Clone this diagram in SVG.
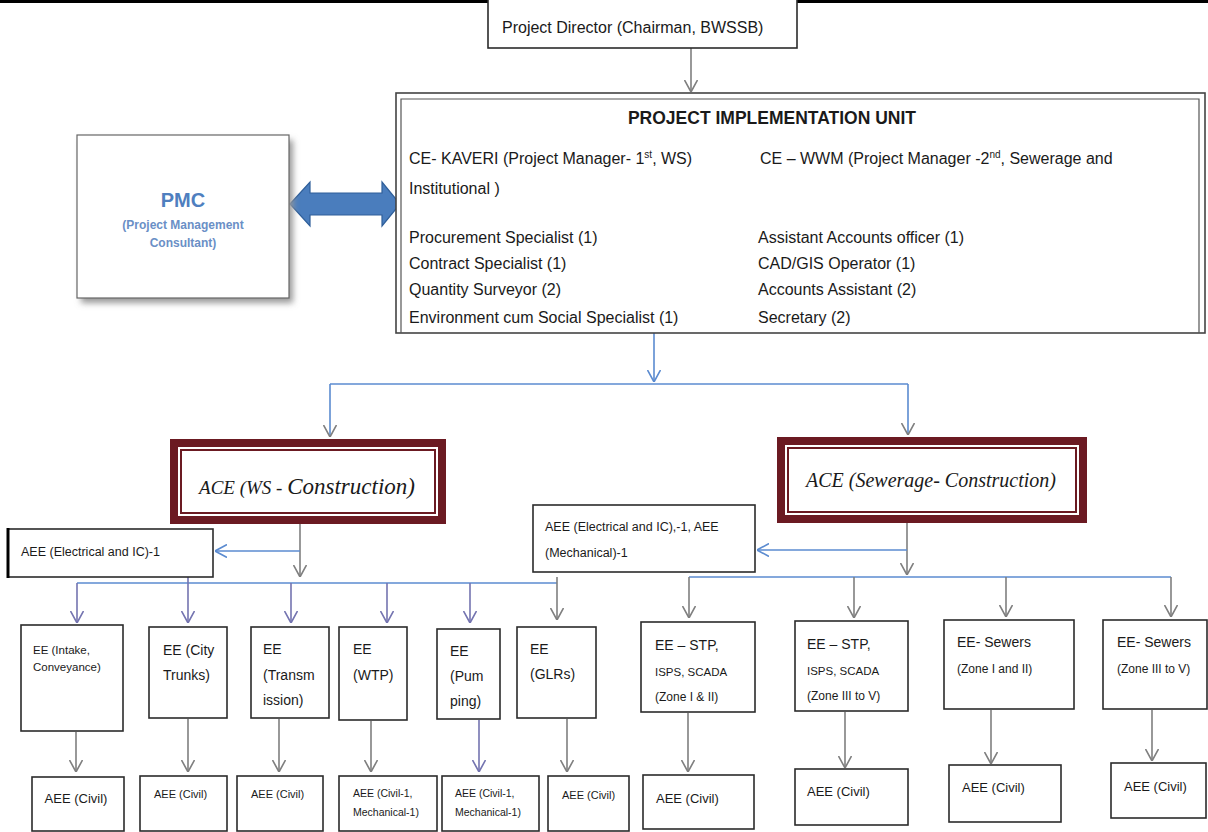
<svg xmlns="http://www.w3.org/2000/svg" width="1208" height="832" viewBox="0 0 1208 832">
<defs>
<style>
.t{font-family:"Liberation Sans",Arial,sans-serif;fill:#1a1a1a}
.box{fill:#fff;stroke:#2b2b2b;stroke-width:1.6}
.ace{fill:#fff;stroke:#6b1a22;stroke-width:8}
.acei{fill:none;stroke:#6b1a22;stroke-width:2}
.ser{font-family:"Liberation Serif","Times New Roman",serif;font-style:italic;fill:#1a1a1a}
.cb{fill:none;stroke:#5b8bd0;stroke-width:1.6}
.cg{fill:none;stroke:#7f7f7f;stroke-width:1.6}
.cp{fill:none;stroke:#7474b0;stroke-width:1.6}
</style>
<marker id="mg" viewBox="0 0 12 14" refX="12" refY="7" markerWidth="12" markerHeight="14" markerUnits="userSpaceOnUse" orient="auto"><path d="M0,0.5 L12,7 L0,13.5" fill="none" stroke="#7f7f7f" stroke-width="1.6"/></marker>
<marker id="mb" viewBox="0 0 12 14" refX="12" refY="7" markerWidth="12" markerHeight="14" markerUnits="userSpaceOnUse" orient="auto"><path d="M0,0.5 L12,7 L0,13.5" fill="none" stroke="#5b8bd0" stroke-width="1.6"/></marker>
<marker id="mp" viewBox="0 0 12 14" refX="12" refY="7" markerWidth="12" markerHeight="14" markerUnits="userSpaceOnUse" orient="auto"><path d="M0,0.5 L12,7 L0,13.5" fill="none" stroke="#7474b0" stroke-width="1.6"/></marker>
<filter id="sh" x="-10%" y="-10%" width="130%" height="130%"><feGaussianBlur stdDeviation="3"/></filter>
</defs>
<rect x="0" y="0" width="1208" height="832" fill="#fff"/>
<line x1="0" y1="1.5" x2="1208" y2="1.5" stroke="#000" stroke-width="3"/>

<g id="connectors">
<path class="cg" d="M691,48 L691,92" marker-end="url(#mg)"/>
<path class="cb" d="M654,333 L654,382" marker-end="url(#mb)"/>
<path class="cb" d="M330,384 L908,384"/>
<path class="cb" d="M330,384 L330,437" marker-end="url(#mg)"/>
<path class="cb" d="M908,384 L908,435" marker-end="url(#mg)"/>
<path class="cg" d="M300,524 L300,577" marker-end="url(#mg)"/>
<path class="cb" d="M300,551 L215,551" marker-end="url(#mb)"/>
<path class="cb" d="M77,583 L557,583"/>
<path class="cp" d="M77,583 L77,623" marker-end="url(#mp)"/>
<path class="cp" d="M188,577 L188,623" marker-end="url(#mp)"/>
<path class="cp" d="M291,583 L291,623" marker-end="url(#mp)"/>
<path class="cp" d="M387,583 L387,623" marker-end="url(#mp)"/>
<path class="cp" d="M470,583 L470,623" marker-end="url(#mp)"/>
<path class="cg" d="M557,577 L557,620" marker-end="url(#mg)"/>
<path class="cg" d="M76,732 L76,772" marker-end="url(#mg)"/>
<path class="cg" d="M188,719 L188,772" marker-end="url(#mg)"/>
<path class="cg" d="M279,719 L279,772" marker-end="url(#mg)"/>
<path class="cg" d="M371,721 L371,772" marker-end="url(#mg)"/>
<path class="cp" d="M479,720 L479,772" marker-end="url(#mp)"/>
<path class="cg" d="M567,719 L567,772" marker-end="url(#mg)"/>
<path class="cg" d="M907,523 L907,575" marker-end="url(#mg)"/>
<path class="cb" d="M907,550 L757,550" marker-end="url(#mb)"/>
<path class="cb" d="M689,577 L1171,577"/>
<path class="cg" d="M689,577 L689,618" marker-end="url(#mg)"/>
<path class="cg" d="M854,577 L854,618" marker-end="url(#mg)"/>
<path class="cg" d="M1006,577 L1006,617" marker-end="url(#mg)"/>
<path class="cg" d="M1171,577 L1171,617" marker-end="url(#mg)"/>
<path class="cg" d="M688,713 L688,772" marker-end="url(#mg)"/>
<path class="cg" d="M845,712 L845,768" marker-end="url(#mg)"/>
<path class="cg" d="M991,710 L991,764" marker-end="url(#mg)"/>
<path class="cg" d="M1152,710 L1152,761" marker-end="url(#mg)"/>
<polygon points="290,204 310,182 310,193 382,193 382,182 400,204 382,226 382,215 310,215 310,226" fill="#4a7dbd" stroke="#2f5f9a" stroke-width="1.2"/>
</g>

<g id="pd">
<rect class="box" x="488" y="-2" width="309" height="50"/>
<text class="t" x="502" y="33" font-size="16">Project Director (Chairman, BWSSB)</text>
</g>

<g id="piu">
<rect x="396" y="93" width="809" height="240" fill="#fff" stroke="#444" stroke-width="1.6"/>
<path d="M401,333 L401,99 L1199,99 L1199,333" fill="none" stroke="#555" stroke-width="1.2"/>
<text class="t" x="772" y="124" font-size="17.5" font-weight="bold" text-anchor="middle">PROJECT IMPLEMENTATION UNIT</text>
<text class="t" x="409" y="164" font-size="16">CE- KAVERI (Project Manager- 1<tspan font-size="10" dy="-6">st</tspan><tspan dy="6">, WS)</tspan></text>
<text class="t" x="760" y="164" font-size="16">CE – WWM (Project Manager -2<tspan font-size="10" dy="-6">nd</tspan><tspan dy="6">, Sewerage and</tspan></text>
<text class="t" x="409" y="194" font-size="16">Institutional )</text>
<text class="t" x="409" y="243" font-size="16">Procurement Specialist (1)</text>
<text class="t" x="409" y="269" font-size="16">Contract Specialist (1)</text>
<text class="t" x="409" y="295" font-size="16">Quantity Surveyor (2)</text>
<text class="t" x="409" y="323" font-size="16">Environment cum Social Specialist (1)</text>
<text class="t" x="758" y="243" font-size="16">Assistant Accounts officer (1)</text>
<text class="t" x="758" y="269" font-size="16">CAD/GIS Operator (1)</text>
<text class="t" x="758" y="295" font-size="16">Accounts Assistant (2)</text>
<text class="t" x="758" y="323" font-size="16">Secretary (2)</text>
</g>

<g id="pmc">
<rect x="81" y="140" width="212" height="163" fill="#999" filter="url(#sh)"/>
<rect x="77" y="135" width="212" height="163" fill="#fff" stroke="#666" stroke-width="1.2"/>
<text x="183" y="207" font-family="Liberation Sans,Arial,sans-serif" font-size="20" font-weight="bold" fill="#4f7fbf" text-anchor="middle">PMC</text>
<text x="183" y="229" font-family="Liberation Sans,Arial,sans-serif" font-size="12" font-weight="bold" fill="#6a8fc6" text-anchor="middle">(Project Management</text>
<text x="183" y="247" font-family="Liberation Sans,Arial,sans-serif" font-size="12" font-weight="bold" fill="#6a8fc6" text-anchor="middle">Consultant)</text>
</g>

<g id="ace-ws">
<rect class="ace" x="174" y="443" width="268" height="77"/>
<rect class="acei" x="181" y="450" width="254" height="63"/>
<text class="ser" x="307" y="494" text-anchor="middle"><tspan font-size="19">ACE (WS - </tspan><tspan font-size="23">Construction)</tspan></text>
</g>

<g id="ace-sew">
<rect class="ace" x="781" y="441" width="302" height="78"/>
<rect class="acei" x="788" y="448" width="288" height="64"/>
<text class="ser" x="931" y="487" font-size="20" text-anchor="middle">ACE (Sewerage- Construction)</text>
</g>

<g id="aee-ws-elec">
<rect class="box" x="8" y="529" width="205" height="48"/>
<line x1="8" y1="528" x2="8" y2="578" stroke="#000" stroke-width="3"/>
<text class="t" x="21" y="556" font-size="12.5">AEE (Electrical and IC)-1</text>
</g>

<g id="aee-sew-elec">
<rect class="box" x="533" y="505" width="222" height="67"/>
<text class="t" x="545" y="531" font-size="12.5">AEE (Electrical and IC),-1, AEE</text>
<text class="t" x="545" y="557" font-size="12.5">(Mechanical)-1</text>
</g>

<g id="ee-intake">
<rect class="box" x="21" y="625" width="102" height="106"/>
<text class="t" x="33" y="654" font-size="11.5">EE (Intake,</text>
<text class="t" x="33" y="671" font-size="11.5">Conveyance)</text>
</g>
<g id="ee-city">
<rect class="box" x="149" y="627" width="78" height="91"/>
<text class="t" x="163" y="655" font-size="14">EE (City</text>
<text class="t" x="163" y="680" font-size="14">Trunks)</text>
</g>
<g id="ee-trans">
<rect class="box" x="251" y="627" width="78" height="91"/>
<text class="t" x="263" y="654" font-size="14">EE</text>
<text class="t" x="263" y="680" font-size="14">(Transm</text>
<text class="t" x="263" y="705" font-size="14">ission)</text>
</g>
<g id="ee-wtp">
<rect class="box" x="339" y="627" width="68" height="93"/>
<text class="t" x="353" y="654" font-size="14">EE</text>
<text class="t" x="353" y="680" font-size="14">(WTP)</text>
</g>
<g id="ee-pump">
<rect class="box" x="437" y="629" width="63" height="90"/>
<text class="t" x="450" y="656" font-size="14">EE</text>
<text class="t" x="450" y="681" font-size="14">(Pum</text>
<text class="t" x="450" y="706" font-size="14">ping)</text>
</g>
<g id="ee-glr">
<rect class="box" x="517" y="627" width="79" height="91"/>
<text class="t" x="530" y="654" font-size="14">EE</text>
<text class="t" x="530" y="679" font-size="14">(GLRs)</text>
</g>
<g id="ee-stp1">
<rect class="box" x="641" y="622" width="114" height="90"/>
<text class="t" x="655" y="650" font-size="14">EE – STP,</text>
<text class="t" x="655" y="676" font-size="11.5">ISPS, SCADA</text>
<text class="t" x="655" y="701" font-size="12">(Zone I &amp; II)</text>
</g>
<g id="ee-stp2">
<rect class="box" x="795" y="621" width="113" height="90"/>
<text class="t" x="807" y="649" font-size="14">EE – STP,</text>
<text class="t" x="807" y="675" font-size="11.5">ISPS, SCADA</text>
<text class="t" x="807" y="700" font-size="12">(Zone III to V)</text>
</g>
<g id="ee-sew1">
<rect class="box" x="944" y="620" width="130" height="89"/>
<text class="t" x="957" y="647" font-size="14">EE- Sewers</text>
<text class="t" x="957" y="673" font-size="12">(Zone I and II)</text>
</g>
<g id="ee-sew2">
<rect class="box" x="1103" y="620" width="104" height="89"/>
<text class="t" x="1117" y="647" font-size="14">EE- Sewers</text>
<text class="t" x="1117" y="673" font-size="12">(Zone III to V)</text>
</g>

<g id="aee-1"><rect class="box" x="32" y="777" width="92" height="54"/><text class="t" x="76" y="803" font-size="13" text-anchor="middle">AEE (Civil)</text></g>
<g id="aee-2"><rect class="box" x="140" y="776" width="87" height="55"/><text class="t" x="154" y="798" font-size="11">AEE (Civil)</text></g>
<g id="aee-3"><rect class="box" x="237" y="776" width="86" height="55"/><text class="t" x="251" y="798" font-size="11">AEE (Civil)</text></g>
<g id="aee-4"><rect class="box" x="339" y="776" width="98" height="55"/><text class="t" x="353" y="797" font-size="10.5">AEE (Civil-1,</text><text class="t" x="353" y="816" font-size="10.5">Mechanical-1)</text></g>
<g id="aee-5"><rect class="box" x="442" y="776" width="97" height="55"/><text class="t" x="455" y="797" font-size="10.5">AEE (Civil-1,</text><text class="t" x="455" y="816" font-size="10.5">Mechanical-1)</text></g>
<g id="aee-6"><rect class="box" x="548" y="776" width="81" height="55"/><text class="t" x="562" y="799" font-size="11">AEE (Civil)</text></g>
<g id="aee-7"><rect class="box" x="643" y="775" width="111" height="54"/><text class="t" x="656" y="803" font-size="13">AEE (Civil)</text></g>
<g id="aee-8"><rect class="box" x="795" y="769" width="113" height="56"/><text class="t" x="807" y="796" font-size="13">AEE (Civil)</text></g>
<g id="aee-9"><rect class="box" x="949" y="765" width="112" height="57"/><text class="t" x="962" y="792" font-size="13">AEE (Civil)</text></g>
<g id="aee-10"><rect class="box" x="1111" y="763" width="95" height="55"/><text class="t" x="1124" y="791" font-size="13">AEE (Civil)</text></g>
</svg>
